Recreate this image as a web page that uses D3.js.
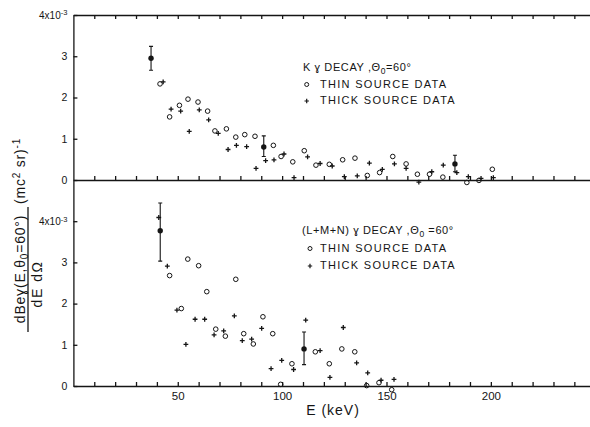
<!DOCTYPE html>
<html>
<head>
<meta charset="utf-8">
<script src="https://cdn.jsdelivr.net/npm/d3@7"></script>
<style>
  body { margin: 0; background: #fff; }
  svg { display: block; }
  text { font-family: 'Liberation Sans', Arial, sans-serif; fill: #151515; }
</style>
</head>
<body>
<div id="chart"></div>
<script>
// values are [E (keV), dB/dEdΩ in units of 1e-3]
// K gamma decay
const kThin = [
  [41.5, 2.33], [46.1, 1.53], [50.8, 1.81], [54.9, 1.96], [59.7, 1.89],
  [64.3, 1.67], [67.8, 1.19], [73.3, 1.24], [77.8, 1.04], [82.1, 1.10],
  [87.0, 1.06], [95.8, 0.84], [99.5, 0.57], [105.1, 0.44], [110.6, 0.71],
  [116.2, 0.36], [122.6, 0.38], [129.0, 0.49], [134.9, 0.53], [140.8, 0.11],
  [146.7, 0.18], [153.0, 0.57], [159.4, 0.39], [164.8, 0.14], [170.6, 0.14],
  [177.0, 0.07], [188.5, -0.06], [194.3, -0.01], [200.7, 0.26]
];
const kThick = [
  [43.0, 2.38], [46.8, 1.72], [51.4, 1.67], [55.5, 1.18], [60.3, 1.70],
  [64.8, 1.46], [69.4, 1.13], [74.1, 0.74], [78.1, 0.84], [83.0, 0.81],
  [87.5, 0.28], [92.1, 0.47], [96.1, 0.49], [100.9, 0.63], [105.7, 0.06],
  [112.2, 0.56], [118.2, 0.40], [124.0, 0.34], [129.8, 0.08], [136.0, 0.10],
  [141.8, 0.41], [148.0, 0.26], [153.8, 0.39], [159.4, 0.28], [165.5, -0.05],
  [171.7, 0.20], [177.2, 0.36], [183.7, 0.18], [189.2, 0.08], [195.3, 0.04],
  [201.2, 0.06]
];
// [E, value, low, high]
const kErr = [[37.2, 2.95, 2.66, 3.24], [91.2, 0.80, 0.57, 1.07], [182.8, 0.39, 0.20, 0.60]];

// (L+M+N) gamma decay
const lmnThin = [
  [46.1, 2.68], [51.7, 1.88], [54.8, 3.08], [60.0, 2.92], [63.9, 2.29],
  [68.2, 1.38], [72.8, 1.21], [77.8, 2.59], [81.6, 1.27], [86.2, 1.02],
  [90.8, 1.68], [95.5, 1.27], [99.3, 0.04], [104.7, 0.54], [115.9, 0.83],
  [122.6, 0.54], [128.6, 0.90], [134.8, 0.83], [140.5, 0.01], [146.4, 0.08],
  [152.5, -0.09]
];
const lmnThick = [
  [40.9, 4.09], [45.0, 2.91], [49.6, 1.84], [53.9, 1.01], [58.3, 1.62],
  [62.9, 1.62], [67.4, 1.24], [72.0, 1.34], [77.1, 1.70], [80.9, 1.10],
  [85.4, 1.14], [90.2, 1.40], [94.7, 0.42], [99.8, 0.62], [105.5, 0.40],
  [111.3, 1.60], [118.2, 0.86], [122.9, 0.21], [129.3, 1.42], [135.7, 0.56],
  [141.0, 0.32], [147.4, 0.14], [153.6, 0.16]
];
const lmnErr = [[41.6, 3.77, 3.03, 4.44], [110.5, 0.90, 0.52, 1.31]];

const xTicks = d3.range(10, 250, 10);
const xLabels = [50, 100, 150, 200];
const yTicks = [0, 1, 2, 3, 4];

const width = 590, height = 427;
const ink = "#151515";
const left = 73.4, topY = 15, midY = 180, botY = 386;

const svg = d3.select("#chart").append("svg")
  .attr("width", width)
  .attr("height", height);

const x = d3.scaleLinear().domain([0, 247.5]).range([left, width]);
const yTop = d3.scaleLinear().domain([0, 4]).range([midY, topY]);
const yBot = d3.scaleLinear().domain([0, 5]).range([botY, midY]);

// horizontal frame lines with inward ticks
function hAxis(axis, y, labels) {
  const g = svg.append("g")
    .attr("transform", `translate(0,${y})`)
    .call(axis.tickValues(xTicks).tickSize(-4).tickSizeOuter(0).tickPadding(6)
      .tickFormat(d => labels && labels.includes(d) ? d : ""));
  g.selectAll("path, line").attr("stroke", ink).attr("stroke-width", 1.3);
  g.selectAll("text").attr("font-size", "11.5px").attr("font-family", null);
  return g;
}
hAxis(d3.axisTop(x), topY);
hAxis(d3.axisBottom(x), midY);
hAxis(d3.axisBottom(x), botY, xLabels);

// left axes
function vAxis(y) {
  const g = svg.append("g")
    .attr("transform", `translate(${left},0)`)
    .call(d3.axisLeft(y).tickValues(yTicks).tickSize(-4).tickSizeOuter(0).tickPadding(6)
      .tickFormat(d3.format("d")));
  g.selectAll("path, line").attr("stroke", ink).attr("stroke-width", 1.3);
  g.selectAll("text").attr("font-size", "10.5px").attr("font-family", null);
  const t = g.selectAll(".tick text").filter(d => d === 4).attr("font-size", "10px").text("4x10");
  t.append("tspan").attr("dy", "-0.45em").attr("font-size", "7.5px").text("-3");
  return g;
}
vAxis(yTop);
vAxis(yBot);

function drawPanel(y, thin, thick, errs) {
  const g = svg.append("g");
  g.selectAll(".thin").data(thin).join("circle")
    .attr("class", "thin")
    .attr("cx", d => x(d[0]))
    .attr("cy", d => y(d[1]))
    .attr("r", 2.3)
    .attr("fill", "none")
    .attr("stroke", ink)
    .attr("stroke-width", 1);
  g.selectAll(".thick").data(thick).join("path")
    .attr("class", "thick")
    .attr("d", "M-2.4,0H2.4M0,-2.4V2.4")
    .attr("transform", d => `translate(${x(d[0])},${y(d[1])})`)
    .attr("stroke", ink)
    .attr("stroke-width", 1.3);
  const e = g.selectAll(".err").data(errs).join("g").attr("class", "err");
  e.append("path")
    .attr("d", d => `M${x(d[0])},${y(d[2])}V${y(d[3])}M${x(d[0]) - 2},${y(d[2])}h4M${x(d[0]) - 2},${y(d[3])}h4`)
    .attr("stroke", ink)
    .attr("stroke-width", 1.1)
    .attr("fill", "none");
  e.append("circle")
    .attr("cx", d => x(d[0]))
    .attr("cy", d => y(d[1]))
    .attr("r", 2.7)
    .attr("fill", ink);
}
drawPanel(yTop, kThin, kThick, kErr);
drawPanel(yBot, lmnThin, lmnThick, lmnErr);

// legends
function legend(x0, y0, prefix, suffix, mx, tx, dy) {
  const g = svg.append("g").attr("font-size", "11px").attr("letter-spacing", "0.6px");
  const t = g.append("text").attr("x", x0).attr("y", y0);
  t.append("tspan").text(prefix);
  t.append("tspan").attr("dy", 2.5).attr("font-size", "8.5px").text("0");
  t.append("tspan").attr("dy", -2.5).text(suffix);
  g.append("circle").attr("cx", mx).attr("cy", y0 + dy - 3)
    .attr("r", 2).attr("fill", "none").attr("stroke", ink).attr("stroke-width", 1);
  g.append("text").attr("x", tx).attr("y", y0 + dy).attr("letter-spacing", "1.3px").text("THIN  SOURCE  DATA");
  g.append("path").attr("d", "M-2.2,0H2.2M0,-2.2V2.2")
    .attr("transform", `translate(${mx},${y0 + 2 * dy - 3})`)
    .attr("stroke", ink).attr("stroke-width", 1.2);
  g.append("text").attr("x", tx).attr("y", y0 + 2 * dy).attr("letter-spacing", "1.3px").text("THICK  SOURCE  DATA");
}
legend(303, 71, "K ɣ DECAY ,Θ", "=60°", 306.7, 320, 16.5);
legend(302, 234, "(L+M+N) ɣ DECAY ,Θ", " =60°", 310, 320, 17.5);

// x label
svg.append("text")
  .attr("x", 333).attr("y", 415)
  .attr("text-anchor", "middle")
  .attr("font-size", "14px")
  .attr("letter-spacing", "1px")
  .text("E (keV)");

// y label (rotated fraction)
const yl = svg.append("g").attr("transform", "rotate(-90)").attr("font-size", "14px");
const num = yl.append("text").attr("x", -269).attr("y", 25).attr("text-anchor", "middle").attr("letter-spacing", "0.8px");
num.append("tspan").text("dBeɣ(E,θ");
num.append("tspan").attr("dy", 3).attr("font-size", "10px").text("0");
num.append("tspan").attr("dy", -3).text("=60°)");
yl.append("line")
  .attr("x1", -332).attr("x2", -207)
  .attr("y1", 28).attr("y2", 28)
  .attr("stroke", ink).attr("stroke-width", 1.3);
yl.append("text").attr("x", -284).attr("y", 42).attr("text-anchor", "middle").attr("letter-spacing", "1.5px").text("dE dΩ");
const unit = yl.append("text").attr("x", -171).attr("y", 25).attr("text-anchor", "middle").attr("letter-spacing", "0.8px");
unit.append("tspan").text("(mc");
unit.append("tspan").attr("dy", -5).attr("font-size", "10px").text("2");
unit.append("tspan").attr("dy", 5).text("  sr)");
unit.append("tspan").attr("dy", -5).attr("font-size", "10px").text("-1");
</script>
</body>
</html>
